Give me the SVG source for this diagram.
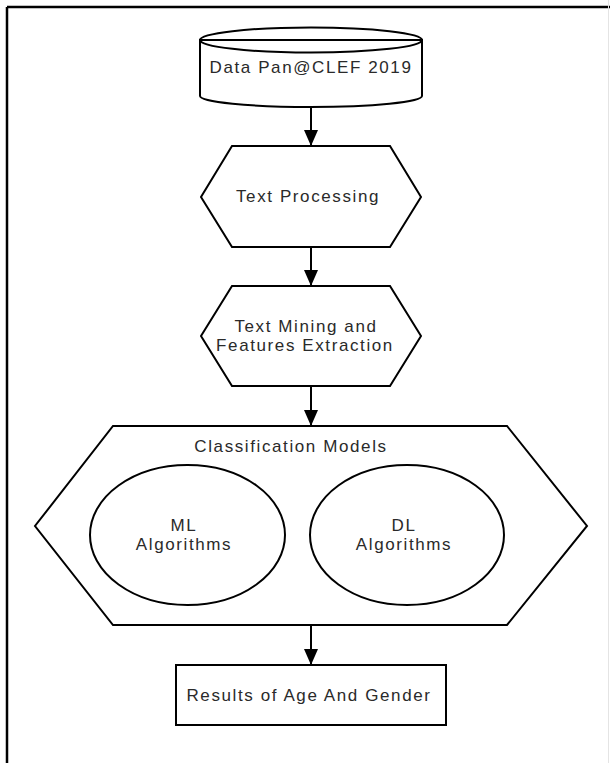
<svg xmlns="http://www.w3.org/2000/svg" width="610" height="763" viewBox="0 0 610 763">
<style>
.s{fill:#fff;stroke:#000;stroke-width:2}
.t{font-family:"Liberation Sans",Arial,sans-serif;font-size:17px;fill:#2a2a2a;letter-spacing:1.6px;text-anchor:middle}
.c{stroke:#000;stroke-width:2;fill:none}
</style>
<defs>
<marker id="ah" markerUnits="userSpaceOnUse" markerWidth="18" markerHeight="14" refX="16" refY="7" orient="auto">
<path d="M0,0 L16,7 L0,14 Z" fill="#000"/>
</marker>
</defs>
<rect x="0" y="0" width="610" height="763" fill="#fff"/>
<g id="frame">
<line x1="7" y1="7" x2="610" y2="7" stroke="#000" stroke-width="2.5"/>
<line x1="7" y1="7" x2="7" y2="763" stroke="#000" stroke-width="2.5"/>
<line x1="608.5" y1="0" x2="608.5" y2="763" stroke="#e4e4e4" stroke-width="1"/>
</g>
<g id="connectors">
<line class="c" x1="311" y1="107" x2="311" y2="146" marker-end="url(#ah)"/>
<line class="c" x1="311" y1="247" x2="311" y2="286" marker-end="url(#ah)"/>
<line class="c" x1="311" y1="386" x2="311" y2="426" marker-end="url(#ah)"/>
<line class="c" x1="311" y1="625" x2="311" y2="665" marker-end="url(#ah)"/>
</g>
<g id="data">
<path class="s" d="M200,40 V96 A111,11 0 0 0 422,96 V40 Z"/>
<ellipse class="s" cx="311" cy="40" rx="111" ry="12.5"/>
<line x1="200" y1="40" x2="422" y2="40" stroke="#000" stroke-width="2"/>
<text class="t" x="311" y="73">Data Pan@CLEF 2019</text>
</g>
<g id="processing">
<polygon class="s" points="232,146 390,146 421,197 390,247 232,247 201,197"/>
<text class="t" x="308" y="202">Text Processing</text>
</g>
<g id="mining">
<polygon class="s" points="232,286 390,286 421,336 390,386 232,386 201,336"/>
<text class="t" x="306" y="332">Text Mining and</text>
<text class="t" x="305" y="351">Features Extraction</text>
</g>
<g id="classification">
<polygon class="s" points="113,426 507,426 587,526 507,625 113,625 35,526"/>
<text class="t" x="291" y="452">Classification Models</text>
</g>
<g id="ml">
<ellipse class="s" cx="187.5" cy="535" rx="97.5" ry="70"/>
<text class="t" x="184" y="531">ML</text>
<text class="t" x="184" y="550">Algorithms</text>
</g>
<g id="dl">
<ellipse class="s" cx="407" cy="535" rx="97" ry="70"/>
<text class="t" x="404" y="531">DL</text>
<text class="t" x="404" y="550">Algorithms</text>
</g>
<g id="results">
<rect class="s" x="176" y="665" width="270" height="60"/>
<text class="t" x="309" y="701">Results of Age And Gender</text>
</g>
</svg>
